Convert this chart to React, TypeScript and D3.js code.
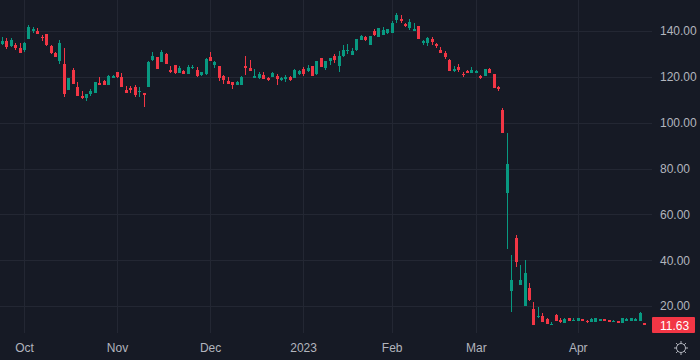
import React, { useEffect, useRef } from 'react';
import * as d3 from 'd3';

// daily OHLC, late Sep 2022 -> late Apr 2023
const opens = [
  134.5, 135.6, 133.5, 133.9, 132.5, 131.6, 136.6, 139.9, 140.0, 137.4,
  138.7, 133.5, 130.3, 126.8, 125.6, 114.3, 123.0, 115.4, 111.6, 110.6,
  112.6, 112.9, 117.3, 118.2, 116.4, 119.5, 122.1, 119.8, 114.3, 115.0,
  115.4, 113.4, 112.8, 115.7, 127.3, 128.7, 126.5, 130.0, 123.0, 125.2,
  121.5, 122.7, 121.1, 123.9, 123.0, 120.8, 121.2, 128.5, 125.0, 124.7,
  120.4, 118.2, 117.7, 116.6, 116.6, 124.7, 123.9, 119.6, 119.5, 120.8,
  119.4, 119.9, 120.5, 118.6, 119.1, 119.9, 119.6, 121.2, 123.4, 122.7,
  124.7, 121.4, 128.2, 123.9, 127.0, 129.2, 124.7, 129.1, 131.3, 129.7,
  131.7, 136.1, 137.3, 133.9, 139.9, 137.5, 138.4, 139.3, 139.3, 144.8,
  145.1, 143.1, 141.3, 140.1, 142.2, 134.6, 134.8, 136.4, 134.5, 131.8,
  130.5, 127.5, 122.7, 124.4, 121.2, 122.4, 121.8, 121.8, 120.4, 120.5,
  123.4, 121.2, 115.7, 105.5, 69.4, 26.5, 49.8, 29.2, 20.1, 27.8,
  18.7, 15.1, 15.6, 14.3, 11.7, 16.1, 14.0, 12.7, 14.6, 13.6,
  13.6, 14.3, 13.6, 13.2, 13.2, 13.6, 14.3, 14.0, 13.2, 13.3,
  12.7, 13.6, 13.6, 13.6, 13.6, 12.4,
];
const highs = [
  137.4, 137.0, 137.0, 134.8, 134.6, 135.2, 142.5, 141.7, 141.3, 138.1,
  138.7, 133.8, 130.8, 135.9, 132.6, 119.5, 123.9, 117.7, 113.8, 112.5,
  114.8, 117.7, 119.9, 118.6, 120.8, 120.8, 122.1, 121.5, 116.0, 116.0,
  116.3, 115.4, 112.8, 127.0, 130.8, 128.7, 131.7, 130.5, 124.7, 125.2,
  124.7, 123.0, 125.2, 125.0, 124.2, 122.2, 128.1, 130.8, 127.0, 124.7,
  121.0, 119.9, 117.7, 118.3, 120.4, 129.1, 127.3, 123.4, 122.1, 122.1,
  119.9, 122.1, 121.2, 119.9, 120.8, 120.4, 123.3, 123.0, 124.3, 125.2,
  124.7, 127.0, 128.2, 126.9, 128.2, 130.0, 131.3, 133.9, 134.3, 132.6,
  136.5, 138.3, 138.0, 137.8, 140.9, 141.3, 141.6, 140.9, 144.4, 147.9,
  147.0, 143.5, 145.2, 143.5, 142.2, 136.1, 137.4, 137.4, 134.9, 133.0,
  131.4, 128.0, 124.7, 125.6, 122.0, 123.0, 124.3, 123.1, 120.8, 123.4,
  123.9, 121.2, 116.1, 106.4, 95.5, 42.2, 51.0, 37.9, 40.1, 30.0,
  21.7, 19.6, 16.8, 14.8, 13.0, 16.5, 14.6, 14.6, 14.6, 14.6,
  14.6, 14.3, 14.0, 14.6, 14.6, 14.3, 14.3, 14.0, 14.0, 13.3,
  14.6, 14.6, 14.6, 14.6, 17.3, 12.4,
];
const lows = [
  134.0, 132.3, 133.0, 131.6, 130.4, 130.8, 136.6, 139.1, 138.7, 135.6,
  133.5, 129.8, 128.7, 125.7, 111.1, 114.3, 116.9, 111.6, 110.2, 109.3,
  111.6, 112.9, 116.4, 116.4, 116.4, 119.5, 119.5, 115.4, 112.8, 113.1,
  111.3, 111.1, 106.7, 115.7, 127.0, 123.5, 126.5, 125.7, 121.5, 121.1,
  121.5, 121.4, 121.1, 123.4, 120.1, 120.5, 120.9, 127.0, 124.0, 118.2,
  117.0, 116.9, 114.7, 116.6, 116.6, 120.8, 122.5, 119.6, 119.1, 119.1,
  118.3, 119.9, 116.4, 118.3, 117.9, 118.3, 119.6, 120.8, 120.4, 122.2,
  120.4, 120.9, 124.3, 123.0, 125.2, 125.9, 122.1, 128.8, 130.0, 129.7,
  131.4, 136.1, 135.5, 133.9, 137.7, 137.5, 138.1, 138.7, 139.3, 143.5,
  143.5, 141.6, 140.4, 140.1, 136.6, 134.0, 133.6, 134.0, 132.7, 130.4,
  127.8, 122.7, 122.1, 122.1, 119.9, 121.8, 121.8, 121.8, 119.0, 120.5,
  121.8, 115.3, 113.9, 95.6, 44.9, 17.5, 37.1, 29.2, 20.1, 22.2,
  11.7, 14.8, 13.0, 12.1, 11.7, 13.4, 12.7, 12.7, 13.6, 13.6,
  13.6, 13.6, 12.7, 13.2, 13.2, 13.6, 13.6, 12.9, 13.2, 12.4,
  12.7, 13.6, 13.6, 13.6, 13.6, 11.5,
];
const closes = [
  135.6, 132.9, 135.9, 132.6, 130.4, 134.8, 141.7, 141.0, 138.7, 136.8,
  134.0, 130.4, 128.7, 134.8, 112.5, 119.5, 116.9, 111.6, 110.8, 112.5,
  113.8, 117.7, 116.4, 116.4, 120.4, 120.4, 119.9, 115.4, 113.1, 114.3,
  111.9, 114.0, 111.9, 126.6, 129.1, 123.5, 130.8, 125.7, 122.1, 121.5,
  124.0, 121.4, 124.3, 124.4, 120.5, 122.0, 127.8, 127.0, 126.5, 119.6,
  118.6, 116.9, 116.4, 117.6, 120.1, 124.0, 122.5, 120.4, 121.4, 119.1,
  118.7, 121.7, 119.1, 119.6, 119.9, 118.6, 123.0, 122.4, 121.2, 123.9,
  120.4, 126.9, 124.3, 126.9, 128.2, 127.3, 129.2, 131.7, 131.7, 131.3,
  136.5, 138.0, 135.9, 137.8, 138.4, 141.3, 140.4, 140.9, 143.5, 147.0,
  144.4, 142.2, 143.8, 140.9, 136.6, 135.6, 136.9, 135.1, 133.5, 130.4,
  128.8, 122.7, 123.5, 123.0, 120.7, 121.8, 123.1, 122.7, 119.6, 123.4,
  121.8, 115.3, 114.6, 95.6, 82.0, 31.3, 39.3, 31.3, 34.4, 22.6,
  11.7, 15.6, 13.0, 12.1, 12.1, 13.4, 13.1, 14.3, 13.6, 14.0,
  14.6, 13.6, 13.2, 14.3, 14.6, 14.3, 13.6, 12.9, 13.6, 12.4,
  14.6, 14.3, 14.6, 14.3, 16.8, 11.63,
];

// first trading day of each month, as a bar index
const tickIndex = [5, 26, 47, 68, 88, 107, 130];
const tickLabels = ['Oct', 'Nov', 'Dec', '2023', 'Feb', 'Mar', 'Apr'];
const priceTicks = [20, 40, 60, 80, 100, 120, 140];
const lastPrice = 11.63;

const W = 700;
const H = 360;
const plotRight = 652;
const plotBottom = 333;
const UP = '#089981';
const DOWN = '#F23645';
const GRID = '#232733';
const TEXT = '#B2B5BE';
const FONT = '"Liberation Sans", Arial, sans-serif';

export default function App() {
  const ref = useRef<SVGSVGElement | null>(null);

  useEffect(() => {
    const svg = d3.select(ref.current);
    svg.selectAll('*').remove();

    const n = closes.length;
    const x = d3.scaleLinear().domain([0, n - 1]).range([1.85, 1.85 + (n - 1) * 4.43]);
    const y = d3.scaleLinear().domain([20, 140]).range([306, 31]);

    svg.append('rect').attr('width', W).attr('height', H).attr('fill', '#161A25');

    // grid
    const grid = svg.append('g').attr('shape-rendering', 'crispEdges');
    grid.selectAll('line.h')
      .data(priceTicks)
      .join('line')
      .attr('class', 'h')
      .attr('x1', 0).attr('x2', plotRight)
      .attr('y1', d => Math.round(y(d)) + 0.5).attr('y2', d => Math.round(y(d)) + 0.5)
      .attr('stroke', GRID);
    grid.selectAll('line.v')
      .data(tickIndex)
      .join('line')
      .attr('class', 'v')
      .attr('x1', d => Math.round(x(d)) + 0.5).attr('x2', d => Math.round(x(d)) + 0.5)
      .attr('y1', 0).attr('y2', plotBottom)
      .attr('stroke', GRID);

    // candles
    const idx = d3.range(n);
    const candles = svg.append('g').attr('shape-rendering', 'crispEdges')
      .selectAll('g')
      .data(idx)
      .join('g')
      .attr('fill', i => (closes[i] >= opens[i] ? UP : DOWN));

    candles.append('rect')
      .attr('x', i => Math.round(x(i)))
      .attr('width', 1)
      .attr('y', i => Math.round(y(highs[i])))
      .attr('height', i => Math.max(1, Math.round(y(lows[i])) - Math.round(y(highs[i]))));

    candles.append('rect')
      .attr('x', i => Math.round(x(i)) - 1)
      .attr('width', 3)
      .attr('y', i => Math.round(y(Math.max(opens[i], closes[i]))))
      .attr('height', i => Math.max(1, Math.round(y(Math.min(opens[i], closes[i]))) - Math.round(y(Math.max(opens[i], closes[i])))));

    // price axis
    const yAxis = svg.append('g')
      .attr('transform', `translate(660,0)`)
      .call(d3.axisRight(y).tickValues(priceTicks).tickFormat(d3.format('.2f')).tickSize(0).tickPadding(0));
    yAxis.select('.domain').remove();
    yAxis.selectAll('text').attr('fill', TEXT).attr('font-size', 12).attr('font-family', FONT);

    // time axis
    const xAxis = svg.append('g')
      .attr('transform', `translate(0,${plotBottom})`)
      .call(d3.axisBottom(x).tickValues(tickIndex).tickFormat((_, i) => tickLabels[i]).tickSize(0).tickPadding(10));
    xAxis.select('.domain').remove();
    xAxis.selectAll('text').attr('fill', TEXT).attr('font-size', 12).attr('font-family', FONT);

    // last price tag
    const ly = y(lastPrice);
    svg.append('rect')
      .attr('x', 652).attr('y', Math.round(ly) - 8)
      .attr('width', 43).attr('height', 16)
      .attr('rx', 1)
      .attr('fill', DOWN);
    svg.append('text')
      .attr('x', 660).attr('y', ly)
      .attr('dy', '0.36em')
      .attr('fill', '#FFFFFF')
      .attr('font-size', 12)
      .attr('font-family', FONT)
      .text(d3.format('.2f')(lastPrice));

    // settings gear
    const gear = svg.append('g')
      .attr('transform', 'translate(681,348)')
      .attr('stroke', TEXT)
      .attr('fill', 'none')
      .attr('stroke-width', 1);
    gear.append('circle').attr('r', 4.5);
    gear.selectAll('line')
      .data(d3.range(8))
      .join('line')
      .attr('x1', k => Math.cos((k * Math.PI) / 4) * 4.5)
      .attr('y1', k => Math.sin((k * Math.PI) / 4) * 4.5)
      .attr('x2', k => Math.cos((k * Math.PI) / 4) * 7)
      .attr('y2', k => Math.sin((k * Math.PI) / 4) * 7);
  }, []);

  return (
    <div style={{ position: 'fixed', left: 0, top: 0 }}>
      <svg ref={ref} width={W} height={H} style={{ display: 'block' }} />
    </div>
  );
}
